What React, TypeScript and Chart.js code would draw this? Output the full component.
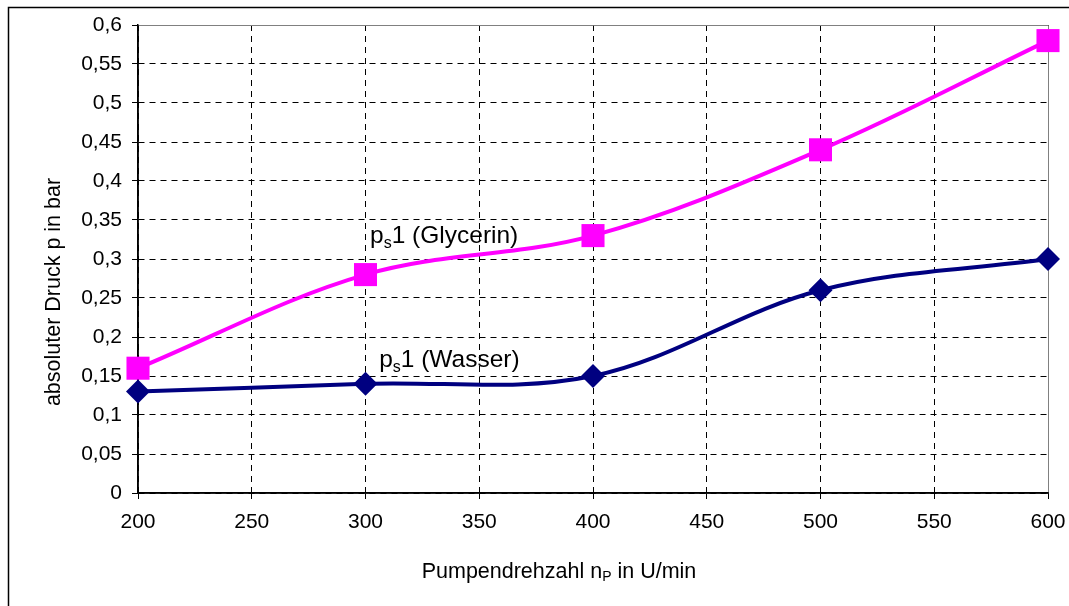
import React, { useEffect, useRef } from "react";
import { Chart, registerables } from "chart.js";

Chart.register(...registerables);

// ---- data ----
const rpm = [200, 300, 400, 500, 600];
const glycerin = [0.16, 0.28, 0.33, 0.44, 0.58];
const wasser = [0.13, 0.14, 0.15, 0.26, 0.3];
const seriesNames = ["(Glycerin)", "(Wasser)"];
const labelRpm = [302, 306];
const labelPressure = [0.3205, 0.1615];
const xMin = 200;
const xMax = 600;
const xStep = 50;
const yMin = 0;
const yMax = 0.6;
const yStep = 0.05;
const yTitle = "absoluter Druck p in bar";
const xTitleParts = ["Pumpendrehzahl n", "P", " in U/min"];

const FONT = "'Liberation Sans', Arial, sans-serif";
const MAGENTA = "#FF00FF";
const NAVY = "#000080";

const fmt = (v: number) => {
  const r = Math.round(v * 100) / 100;
  return String(r).replace(".", ",");
};

const overlayPlugin = {
  id: "overlay",
  beforeDatasetsDraw(chart: any) {
    const { ctx, chartArea } = chart;
    ctx.save();
    ctx.setLineDash([]);
    ctx.strokeStyle = "#808080";
    ctx.lineWidth = 1;
    ctx.beginPath();
    ctx.moveTo(chartArea.left, chartArea.top + 0.5);
    ctx.lineTo(chartArea.right + 0.5, chartArea.top + 0.5);
    ctx.lineTo(chartArea.right + 0.5, chartArea.bottom);
    ctx.stroke();
    // solid axis lines
    ctx.strokeStyle = "#000";
    ctx.lineWidth = 1.5;
    ctx.beginPath();
    ctx.moveTo(chartArea.left, chartArea.top);
    ctx.lineTo(chartArea.left, chartArea.bottom);
    ctx.lineTo(chartArea.right + 1, chartArea.bottom);
    ctx.stroke();
    ctx.restore();
  },
  afterDraw(chart: any) {
    const { ctx } = chart;
    const xs = chart.scales.x;
    const ys = chart.scales.y;
    ctx.save();
    // outer frame (top and left)
    ctx.strokeStyle = "#000";
    ctx.lineWidth = 1.5;
    ctx.beginPath();
    ctx.moveTo(8.5, chart.height);
    ctx.lineTo(8.5, 7.5);
    ctx.lineTo(chart.width, 7.5);
    ctx.stroke();

    ctx.fillStyle = "#000";
    ctx.textBaseline = "alphabetic";
    // series annotations
    seriesNames.forEach((name, i) => {
      const px = xs.getPixelForValue(labelRpm[i]);
      const py = ys.getPixelForValue(labelPressure[i]);
      ctx.textAlign = "left";
      ctx.font = `24.5px ${FONT}`;
      ctx.fillText("p", px, py);
      let x = px + ctx.measureText("p").width;
      ctx.font = `16px ${FONT}`;
      ctx.fillText("s", x, py + 5);
      x += ctx.measureText("s").width;
      ctx.font = `24.5px ${FONT}`;
      ctx.fillText("1 " + name, x, py);
    });

    // x title
    const big = `21.5px ${FONT}`;
    const small = `14px ${FONT}`;
    ctx.font = big;
    const w0 = ctx.measureText(xTitleParts[0]).width;
    ctx.font = small;
    const w1 = ctx.measureText(xTitleParts[1]).width;
    ctx.font = big;
    const w2 = ctx.measureText(xTitleParts[2]).width;
    let tx = 559 - (w0 + w1 + w2) / 2;
    const ty = 578;
    ctx.textAlign = "left";
    ctx.fillText(xTitleParts[0], tx, ty);
    tx += w0;
    ctx.font = small;
    ctx.fillText(xTitleParts[1], tx, ty + 3);
    tx += w1;
    ctx.font = big;
    ctx.fillText(xTitleParts[2], tx, ty);

    // y title
    ctx.translate(60, 292);
    ctx.rotate(-Math.PI / 2);
    ctx.textAlign = "center";
    ctx.font = big;
    ctx.fillText(yTitle, 0, 0);
    ctx.restore();
  },
};

export default function App() {
  const ref = useRef<HTMLCanvasElement | null>(null);

  useEffect(() => {
    if (!ref.current) return;
    const gridOpts: any = {
      color: "#000",
      lineWidth: 1,
      tickLength: 6,
      tickBorderDash: [],
      tickColor: "#000",
    };
    const borderOpts: any = { display: true, color: "#000", width: 1.5, dash: [6, 5] };
    const chart = new Chart(ref.current, {
      type: "line",
      data: {
        datasets: [
          {
            label: "ps1 (Wasser)",
            data: rpm.map((x, i) => ({ x, y: wasser[i] })),
            borderColor: NAVY,
            backgroundColor: NAVY,
            borderWidth: 4,
            pointStyle: "rectRot",
            pointRadius: 12,
            pointBorderWidth: 0,
            tension: 0.35,
            clip: false as any,
          },
          {
            label: "ps1 (Glycerin)",
            data: rpm.map((x, i) => ({ x, y: glycerin[i] })),
            borderColor: MAGENTA,
            backgroundColor: MAGENTA,
            borderWidth: 4,
            pointStyle: "rect",
            pointRadius: 16.3,
            pointBorderWidth: 0,
            tension: 0.35,
            clip: false as any,
          },
        ],
      },
      options: {
        animation: false,
        responsive: false,
        events: [],
        layout: { padding: { left: 0, right: 21, top: 25, bottom: 0 } },
        plugins: {
          legend: { display: false },
          tooltip: { enabled: false },
        },
        scales: {
          x: {
            type: "linear",
            min: xMin,
            max: xMax,
            afterFit: (s: any) => {
              s.height = 113;
              s.paddingLeft = 0;
              s.paddingRight = 0;
            },
            afterBuildTicks: (s: any) => {
              const t = [];
              for (let v = xMin; v <= xMax + 1e-9; v += xStep) t.push({ value: v });
              s.ticks = t;
            },
            ticks: {
              color: "#000",
              font: { family: FONT, size: 21 },
              padding: 11,
              maxRotation: 0,
              autoSkip: false,
              callback: (v: any) => String(v),
            },
            grid: gridOpts,
            border: borderOpts,
          },
          y: {
            type: "linear",
            min: yMin,
            max: yMax,
            afterFit: (s: any) => {
              s.width = 138;
              s.paddingTop = 0;
              s.paddingBottom = 0;
            },
            afterBuildTicks: (s: any) => {
              const t = [];
              for (let i = 0; i <= Math.round((yMax - yMin) / yStep); i++)
                t.push({ value: Math.round((yMin + i * yStep) * 100) / 100 });
              s.ticks = t;
            },
            ticks: {
              color: "#000",
              font: { family: FONT, size: 21 },
              padding: 10,
              autoSkip: false,
              callback: (v: any) => fmt(Number(v)),
            },
            grid: gridOpts,
            border: borderOpts,
          },
        },
      },
      plugins: [overlayPlugin],
    } as any);
    return () => chart.destroy();
  }, []);

  return (
    <div
      style={{
        position: "fixed",
        left: 0,
        top: 0,
        width: 1069,
        height: 606,
        background: "#fff",
      }}
    >
      <canvas ref={ref} width={1069} height={606} style={{ width: 1069, height: 606, display: "block" }} />
    </div>
  );
}
